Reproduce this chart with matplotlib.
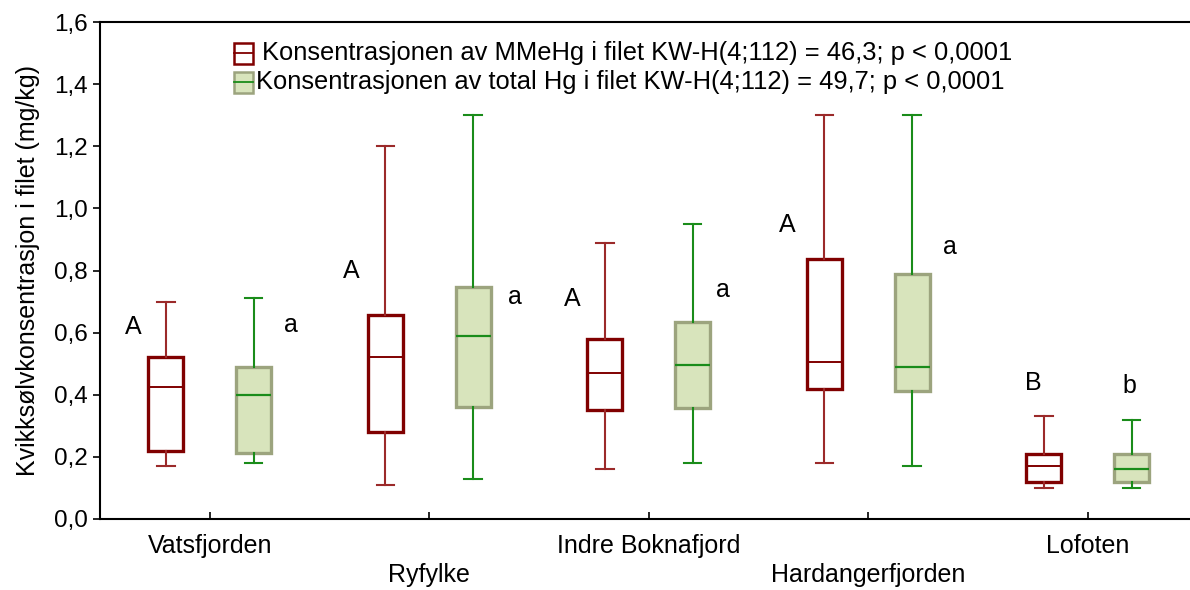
import matplotlib
matplotlib.use("Agg")
import matplotlib.pyplot as plt
from matplotlib.patches import Rectangle
from matplotlib.lines import Line2D

plt.rcParams["font.family"] = ["Liberation Sans", "DejaVu Sans"]

# Sampling areas
areas = ["Vatsfjorden", "Ryfylke", "Indre Boknafjord", "Hardangerfjorden", "Lofoten"]

# Methylmercury (MMeHg) in fillet, mg/kg
mmehg_whislo = [0.17, 0.11, 0.16, 0.18, 0.10]
mmehg_q1     = [0.22, 0.28, 0.35, 0.42, 0.12]
mmehg_med    = [0.425, 0.52, 0.47, 0.505, 0.17]
mmehg_q3     = [0.52, 0.657, 0.58, 0.836, 0.21]
mmehg_whishi = [0.70, 1.20, 0.89, 1.30, 0.33]

# Total Hg in fillet, mg/kg
thg_whislo = [0.18, 0.13, 0.18, 0.17, 0.10]
thg_q1     = [0.212, 0.362, 0.357, 0.412, 0.12]
thg_med    = [0.40, 0.59, 0.496, 0.49, 0.16]
thg_q3     = [0.49, 0.746, 0.633, 0.789, 0.208]
thg_whishi = [0.71, 1.30, 0.95, 1.30, 0.32]

# Group letters (Kruskal-Wallis post hoc)
mmehg_letters = ["A", "A", "A", "A", "B"]
mmehg_letter_y = [0.617, 0.80, 0.707, 0.947, 0.437]
thg_letters = ["a", "a", "a", "a", "b"]
thg_letter_y = [0.625, 0.716, 0.737, 0.877, 0.428]

legend_labels = [
    "Konsentrasjonen av MMeHg i filet KW-H(4;112) = 46,3; p < 0,0001",
    "Konsentrasjonen av total Hg i filet KW-H(4;112) = 49,7; p < 0,0001",
]
y_label = "Kvikksølvkonsentrasjon i filet (mg/kg)"
y_ticks = [0.0, 0.2, 0.4, 0.6, 0.8, 1.0, 1.2, 1.4, 1.6]

RED = "#800000"
RED_W = "#9b2a2a"
GREEN = "#1a8c1a"
GREEN_FILL = "#d8e4bc"
GREEN_EDGE = "#9ca47e"
FS = 18

W, H = 1190, 590
fig = plt.figure(figsize=(W / 100, H / 100), dpi=100)
ax = fig.add_axes([100 / W, 71 / H, 1097.5 / W, 497 / H])

offset = 0.2
box_w = 0.16
cap_w = 0.08


def stats(lo, q1, med, q3, hi):
    return [dict(whislo=a, q1=b, med=c, q3=d, whishi=e, fliers=[])
            for a, b, c, d, e in zip(lo, q1, med, q3, hi)]


pos = list(range(len(areas)))
red_stats = stats(mmehg_whislo, mmehg_q1, mmehg_med, mmehg_q3, mmehg_whishi)
grn_stats = stats(thg_whislo, thg_q1, thg_med, thg_q3, thg_whishi)

ax.bxp(red_stats, positions=[p - offset for p in pos], widths=box_w,
       capwidths=cap_w, showfliers=False, patch_artist=True,
       boxprops=dict(facecolor="white", edgecolor=RED, linewidth=2.4),
       medianprops=dict(color=RED, linewidth=1.4),
       whiskerprops=dict(color=RED_W, linewidth=1.5),
       capprops=dict(color=RED_W, linewidth=1.5))
ax.bxp(grn_stats, positions=[p + offset for p in pos], widths=box_w,
       capwidths=cap_w, showfliers=False, patch_artist=True,
       boxprops=dict(facecolor=GREEN_FILL, edgecolor=GREEN_EDGE, linewidth=2.4),
       medianprops=dict(color=GREEN, linewidth=1.6),
       whiskerprops=dict(color=GREEN, linewidth=1.5),
       capprops=dict(color=GREEN, linewidth=1.5))

# Letter positions relative to each area centre
mmehg_dx = [-0.35, -0.355, -0.35, -0.37, -0.25]
thg_dx = [0.37, 0.39, 0.34, 0.37, 0.19]
for i in pos:
    ax.text(i + mmehg_dx[i], mmehg_letter_y[i], mmehg_letters[i],
            ha="center", va="center", fontsize=FS)
    ax.text(i + thg_dx[i], thg_letter_y[i], thg_letters[i],
            ha="center", va="center", fontsize=FS)

ax.set_xlim(-0.5, 4.5)
ax.set_ylim(0, 1.6)
ax.set_yticks(y_ticks)
ax.set_yticklabels([f"{v:.1f}".replace(".", ",") for v in y_ticks], fontsize=17.5)
ax.set_xticks(pos)
ax.set_xticklabels(areas, fontsize=FS)
ax.tick_params(axis="y", direction="out", length=5, width=1.2, pad=4)
ax.tick_params(axis="x", direction="in", length=5, width=1.2)
for i, t in enumerate(ax.xaxis.get_major_ticks()):
    t.set_pad(11 if i % 2 == 0 else 32)

for s in ["left", "bottom", "top"]:
    ax.spines[s].set_linewidth(1.5)
    ax.spines[s].set_color("black")
ax.spines["right"].set_visible(False)

fig.text(28 / W, 1 - 270 / H, y_label, rotation=90, ha="center", va="center",
         fontsize=FS)

# Legend
lx0, lw, lh = 234 / W, 19 / W, 21 / H
rows = [(1 - 53 / H, "white", RED, RED, 262 / W),
        (1 - 82 / H, GREEN_FILL, GREEN_EDGE, GREEN, 256 / W)]
for (yc, fc, ec, mc, tx), lab in zip(rows, legend_labels):
    fig.add_artist(Rectangle((lx0, yc - lh / 2), lw, lh, facecolor=fc,
                             edgecolor=ec, linewidth=1.8,
                             transform=fig.transFigure))
    fig.add_artist(Line2D([lx0, lx0 + lw], [yc, yc], color=mc, linewidth=1.3,
                          transform=fig.transFigure))
    fig.text(tx, yc, lab, ha="left", va="center", fontsize=18.4)

fig.savefig("out.png", dpi=100)
